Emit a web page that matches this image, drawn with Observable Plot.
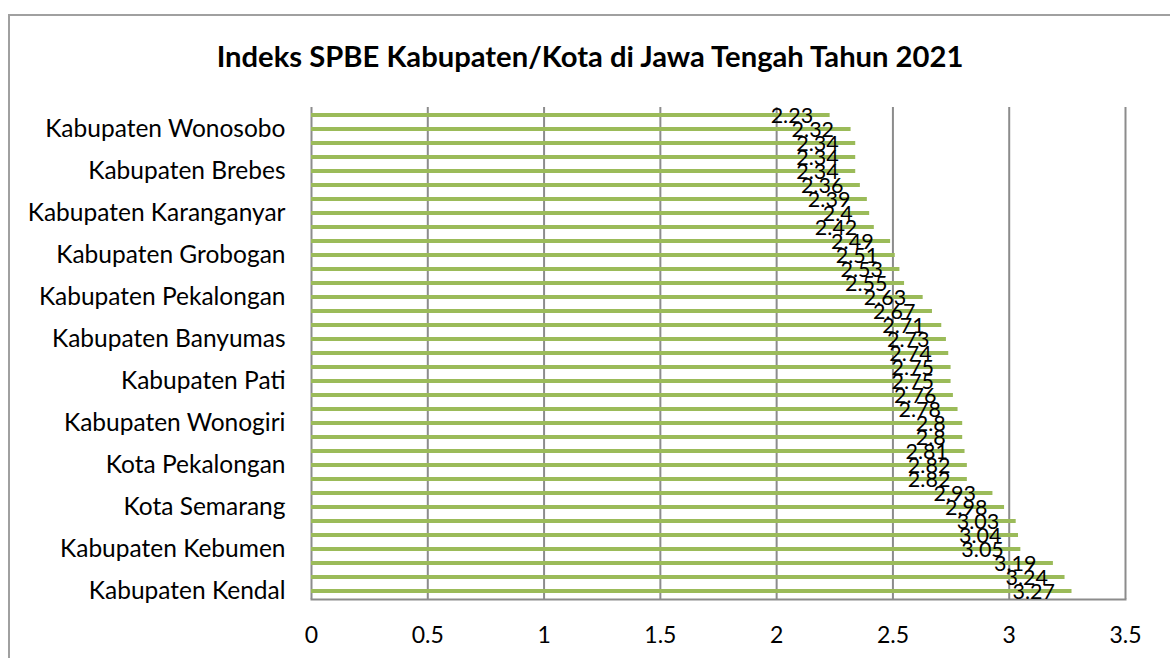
<!DOCTYPE html>
<html><head><meta charset="utf-8">
<script src="https://cdn.jsdelivr.net/npm/d3@7"></script>
<script src="https://cdn.jsdelivr.net/npm/@observablehq/plot@0.6"></script>
<style>
html,body{margin:0;padding:0;background:#fff;width:1170px;height:658px;overflow:hidden;font-family:Lato,"Open Sans",sans-serif;color:#000}
#frame{position:absolute;left:8px;top:14px;width:1300px;height:800px;border-left:2px solid #a0a0a0;border-top:2px solid #a0a0a0;box-sizing:border-box}
#title{position:absolute;left:8px;width:1164px;top:39px;text-align:center;font-weight:bold;font-size:29.2px;line-height:34px;margin:0}
#chart{position:absolute;left:0;top:85px}
</style></head>
<body>
<div id="frame"></div>
<h2 id="title">Indeks SPBE Kabupaten/Kota di Jawa Tengah Tahun 2021</h2>
<div id="chart"></div>
<script>
// categories, top to bottom
const names = [
  "Kabupaten Banjarnegara", "Kabupaten Wonosobo", "Kabupaten Blora",
  "Kabupaten Rembang", "Kabupaten Brebes", "Kabupaten Purbalingga",
  "Kabupaten Pemalang", "Kabupaten Karanganyar", "Kabupaten Cilacap",
  "Kabupaten Temanggung", "Kabupaten Grobogan", "Kabupaten Demak",
  "Kabupaten Purworejo", "Kabupaten Pekalongan", "Kabupaten Kudus",
  "Kabupaten Tegal", "Kabupaten Banyumas", "Kabupaten Jepara",
  "Kabupaten Magelang", "Kabupaten Pati", "Kabupaten Sragen",
  "Kota Tegal", "Kabupaten Wonogiri", "Kabupaten Klaten",
  "Kota Salatiga", "Kota Pekalongan", "Kabupaten Batang",
  "Kabupaten Semarang", "Kota Semarang", "Kabupaten Boyolali",
  "Kota Magelang", "Kabupaten Kebumen", "Kabupaten Sukoharjo",
  "Kota Surakarta", "Kabupaten Kendal"
];
// index values, same order
const values = [
  2.23, 2.32, 2.34, 2.34, 2.34, 2.36, 2.39, 2.4, 2.42, 2.49,
  2.51, 2.53, 2.55, 2.63, 2.67, 2.71, 2.73, 2.74, 2.75, 2.75,
  2.76, 2.78, 2.8, 2.8, 2.81, 2.82, 2.82, 2.93, 2.98, 3.03,
  3.04, 3.05, 3.19, 3.24, 3.27
];
// category labels shown on the axis
const shownLabels = [
  "Kabupaten Wonosobo", "Kabupaten Brebes", "Kabupaten Karanganyar",
  "Kabupaten Grobogan", "Kabupaten Pekalongan", "Kabupaten Banyumas",
  "Kabupaten Pati", "Kabupaten Wonogiri", "Kota Pekalongan",
  "Kota Semarang", "Kabupaten Kebumen", "Kabupaten Kendal"
];
const xTicks = [0, 0.5, 1, 1.5, 2, 2.5, 3, 3.5];

const data = names.map((n, i) => ({name: n, value: values[i]}));

const chart = Plot.plot({
  width: 1170,
  height: 573,
  marginTop: 22,
  marginBottom: 59,
  marginLeft: 311,
  marginRight: 45,
  style: {fontFamily: "Lato, 'Open Sans', sans-serif", color: "#000", background: "transparent"},
  x: {domain: [0, 3.5]},
  y: {domain: names, padding: 0},
  marks: [
    Plot.ruleX(xTicks, {stroke: "#8c8c8c", strokeWidth: 2}),
    Plot.barX(data, {x: "value", y: "name", fill: "#9bbb59", insetTop: 5, insetBottom: 5}),
    Plot.frame({anchor: "bottom", stroke: "#8c8c8c", strokeWidth: 2}),
    Plot.text(data, {x: "value", y: "name", text: d => String(d.value), textAnchor: "end", dx: -17, dy: 1, fontSize: 21.5, fill: "#000"}),
    Plot.axisY({ticks: shownLabels, tickSize: 0, tickPadding: 26, fontSize: 24.5, label: null}),
    Plot.axisX({ticks: xTicks, tickSize: 0, tickPadding: 27, fontSize: 23, label: null, tickFormat: d => String(d)})
  ]
});
document.getElementById("chart").appendChild(chart);
</script>
</body></html>
